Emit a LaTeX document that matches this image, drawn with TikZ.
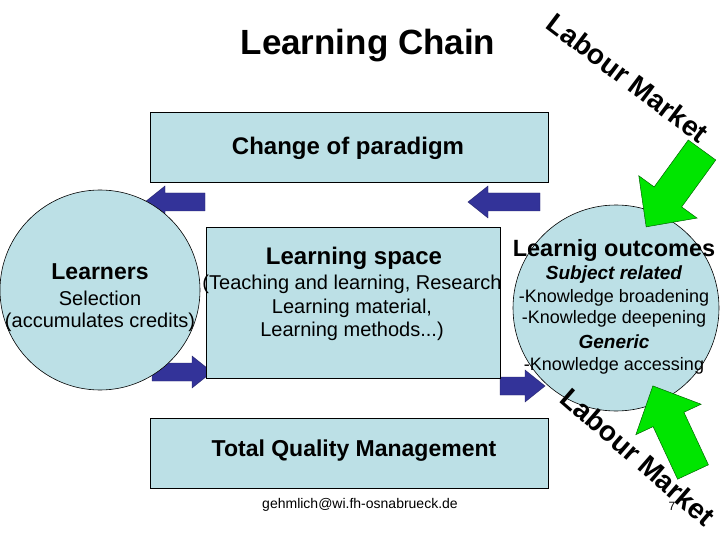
\documentclass[tikz,border=0pt]{standalone}
\usepackage{fontspec}
\setmainfont{Liberation Sans}
\begin{document}
\begin{tikzpicture}[x=1pt,y=-1pt,
  box/.style={draw=black,fill=boxc,line width=0.6pt},
  circ/.style={draw=black,fill=boxc,line width=0.6pt,circle},
  bluearr/.style={fill=navy,draw=navy!70!black,line width=0.4pt},
  greenarr/.style={fill=green!90!black,draw=green!40!black,line width=0.5pt},
  lm/.style={font=\fontsize{28}{30}\selectfont\bfseries,inner sep=0pt}]
\definecolor{boxc}{RGB}{188,224,230}
\definecolor{navy}{RGB}{51,51,153}
\useasboundingbox (0,0) rectangle (720,540);
\node[font=\fontsize{35}{38}\selectfont\bfseries] (title) at (368,46) {Learning Chain};
\node[box,minimum width=398,minimum height=70,anchor=north west] (top) at (150,112) {};
\node[font=\fontsize{24}{26}\selectfont\bfseries] (topt) at (348,148) {Change of paradigm};
% blue arrows left
\fill[bluearr] (145,202) -- (165,186) -- (165,193) -- (205,193) -- (205,211) -- (165,211) -- (165,218) -- cycle;
\fill[bluearr] (468,202) -- (488,186) -- (488,193) -- (540,193) -- (540,211) -- (488,211) -- (488,218) -- cycle;
% blue arrows right
\fill[bluearr] (212,372) -- (192,356) -- (192,363) -- (152,363) -- (152,381) -- (192,381) -- (192,388) -- cycle;
\fill[bluearr] (545,386) -- (525,370) -- (525,377) -- (500,377) -- (500,395) -- (525,395) -- (525,402) -- cycle;
\node[circ,minimum size=200] (learners) at (100,290) {};
\node[font=\fontsize{23}{26}\selectfont\bfseries] at (100,272) {Learners};
\node[font=\fontsize{20}{22}\selectfont] at (100,298) {Selection};
\node[font=\fontsize{20}{22}\selectfont] at (100,322) {(accumulates credits)};
\node[box,minimum width=294,minimum height=151,anchor=north west] (space) at (206,227) {};
\node[font=\fontsize{24}{26}\selectfont\bfseries] at (354,258) {Learning space};
\node[font=\fontsize{20}{22}\selectfont] at (352,284) {(Teaching and learning, Research};
\node[font=\fontsize{20}{22}\selectfont] at (352,308) {Learning material,};
\node[font=\fontsize{20}{22}\selectfont] at (352,331) {Learning methods...)};
\node[circ,minimum size=206] (out) at (616,308) {};
\node[font=\fontsize{23.5}{26}\selectfont\bfseries] at (614,250) {Learnig outcomes};
\node[font=\fontsize{19}{22}\selectfont\bfseries\itshape] at (614,275) {Subject related};
\node[font=\fontsize{18}{20}\selectfont] at (614,298) {-Knowledge broadening};
\node[font=\fontsize{18}{20}\selectfont] at (614,319) {-Knowledge deepening};
\node[font=\fontsize{19}{22}\selectfont\bfseries\itshape] at (614,342) {Generic};
\node[font=\fontsize{18}{20}\selectfont] at (614,366) {-Knowledge accessing};
\node[box,minimum width=398,minimum height=70,anchor=north west] (tqm) at (150,418) {};
\node[font=\fontsize{23}{26}\selectfont\bfseries] at (354,451) {Total Quality Management};
\node[font=\fontsize{14}{16}\selectfont] (mail) at (360,505) {gehmlich@wi.fh-osnabrueck.de};
\node[lm,rotate=-37] (lm1) at (628,78) {Labour Market};
\node[lm,rotate=-41] (lm2) at (638,457) {Labour Market};
\node[font=\fontsize{12}{14}\selectfont] (pg) at (672,506) {7};
% green arrows
\begin{scope}[shift={(702,150)},rotate=-126]
\draw[greenarr] (0,17) -- (58,17) -- (58,36) -- (95,0) -- (58,-36) -- (58,-17) -- (0,-17) -- cycle;
\end{scope}
\begin{scope}[shift={(693,472)},rotate=115]
\draw[greenarr] (0,17) -- (58,17) -- (58,36) -- (95,0) -- (58,-36) -- (58,-17) -- (0,-17) -- cycle;
\end{scope}
\end{tikzpicture}
\end{document}
